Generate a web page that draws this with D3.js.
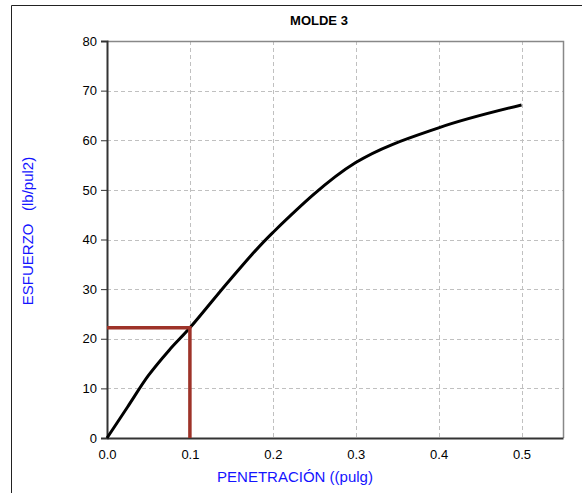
<!DOCTYPE html>
<html>
<head>
<meta charset="utf-8">
<script src="https://cdn.jsdelivr.net/npm/d3@7"></script>
<style>
  html, body { margin: 0; padding: 0; background: #fff; }
  svg { display: block; font-family: "Liberation Sans", Arial, sans-serif; }
</style>
</head>
<body>
<svg id="chart" width="582" height="493"></svg>
<script>
// Penetration (in) vs stress (lb/in²) readings
const penetration = [0, 0.025, 0.05, 0.075, 0.1, 0.15, 0.2, 0.3, 0.4, 0.5];
const stress      = [0, 6.3, 12.6, 17.7, 22.2, 32.2, 41.4, 55.5, 62.5, 67.1];
const xTicks = [0, 0.1, 0.2, 0.3, 0.4, 0.5];
const yTicks = [0, 10, 20, 30, 40, 50, 60, 70, 80];
// Reference reading at 0.1 in
const refX = 0.1;
const refY = 22.2;

const svg = d3.select("#chart");
const plotL = 107, plotR = 563, plotT = 41, plotB = 438;

const x = d3.scaleLinear().domain([0, 0.55]).range([plotL, plotR]);
const y = d3.scaleLinear().domain([0, 80]).range([plotB, plotT]);

// outer chart frame (top and left edges)
svg.append("path")
  .attr("d", `M11.5,493 V5.5 H582`)
  .attr("fill", "none").attr("stroke", "#222").attr("stroke-width", 1);

// gridlines
const grid = svg.append("g").attr("stroke", "#c0c0c0").attr("stroke-dasharray", "4,3").attr("stroke-width", 1);
grid.selectAll("line.h").data(yTicks.filter(d => d > 0 && d < 80)).join("line")
  .attr("x1", plotL).attr("x2", plotR)
  .attr("y1", d => Math.round(y(d)) + 0.5).attr("y2", d => Math.round(y(d)) + 0.5);
grid.selectAll("line.v").data(xTicks.filter(d => d > 0)).join("line")
  .attr("y1", plotT).attr("y2", plotB)
  .attr("x1", d => Math.round(x(d)) + 0.5).attr("x2", d => Math.round(x(d)) + 0.5);

// plot border top/right
svg.append("path")
  .attr("d", `M${plotL},${plotT + 0.5} H${plotR + 0.5} V${plotB}`)
  .attr("fill", "none").attr("stroke", "#888").attr("stroke-width", 1.5);

// y axis
const yAxis = d3.axisLeft(y).tickValues(yTicks).tickSize(6).tickPadding(4).tickFormat(d3.format("d"));
const gy = svg.append("g").attr("transform", `translate(${plotL},0)`).call(yAxis);
gy.select(".domain").attr("stroke", "#333").attr("stroke-width", 2);
gy.selectAll(".tick line").attr("stroke", "#333");
gy.selectAll("text").attr("font-size", 13).attr("fill", "#000")
  .attr("font-family", "Liberation Sans, Arial, sans-serif");

// x axis
const xAxis = d3.axisBottom(x).tickValues(xTicks).tickSize(0).tickPadding(12).tickFormat(d3.format(".1f"));
const gx = svg.append("g").attr("transform", `translate(0,${plotB})`).call(xAxis);
gx.select(".domain").attr("stroke", "#333").attr("stroke-width", 2);
gx.selectAll("text").attr("font-size", 13).attr("fill", "#000")
  .attr("font-family", "Liberation Sans, Arial, sans-serif");

// curve
const line = d3.line()
  .x((d, i) => x(penetration[i]))
  .y((d, i) => y(stress[i]))
  .curve(d3.curveCatmullRom.alpha(0.5));
svg.append("path")
  .datum(stress)
  .attr("d", line)
  .attr("fill", "none").attr("stroke", "#000").attr("stroke-width", 3)
  .attr("stroke-linejoin", "round");

// reference lines at 0.1 in
svg.append("path")
  .attr("d", `M${x(0)},${y(refY)} H${x(refX)} V${y(0)}`)
  .attr("fill", "none").attr("stroke", "#9e3329").attr("stroke-width", 3.5);

// title
svg.append("text").attr("x", 319).attr("y", 25).attr("text-anchor", "middle")
  .attr("font-size", 13).attr("font-weight", "bold").text("MOLDE 3");

// axis titles
svg.append("text").attr("x", 295).attr("y", 482).attr("text-anchor", "middle")
  .attr("font-size", 15).attr("fill", "#1414ff").text("PENETRACIÓN ((pulg)");
svg.append("text").attr("transform", "translate(33,231) rotate(-90)").attr("text-anchor", "middle")
  .attr("font-size", 15).attr("fill", "#1414ff").attr("xml:space", "preserve")
  .style("white-space", "pre").text("ESFUERZO   (lb/pul2)");
</script>
</body>
</html>
